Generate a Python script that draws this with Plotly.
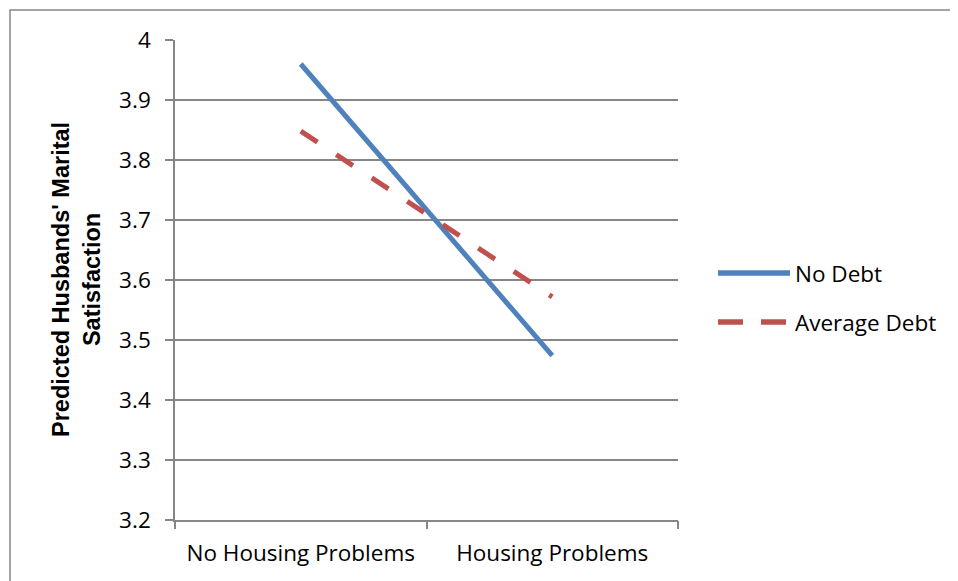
import plotly.graph_objects as go

categories = ["No Housing Problems", "Housing Problems"]
no_debt = [3.96, 3.474]
avg_debt = [3.848, 3.572]
series_names = ["No Debt", "Average Debt"]
y_ticks = [3.2, 3.3, 3.4, 3.5, 3.6, 3.7, 3.8, 3.9, 4.0]
y_tick_text = ["3.2", "3.3", "3.4", "3.5", "3.6", "3.7", "3.8", "3.9", "4"]

OFF = 8  # page body margin
W, H = 958 - OFF, 581 - OFF
PX0, PX1, PY0, PY1 = 175, 678, 40, 520  # plot area in screen pixels
L, R, T, B = PX0 - OFF, 958 - PX1, PY0 - OFF, 581 - PY1
pw, ph = PX1 - PX0, PY1 - PY0
def px(x):
    return (x - PX0) / pw
def py(y):
    return (PY1 - y) / ph

FONT = "Open Sans"
blue = "#4F81BD"
red = "#C0504D"
grid = "#868686"
FS = 22.5

xpos = [i + 0.5 for i in range(len(categories))]

fig = go.Figure()
fig.add_trace(go.Scatter(x=xpos, y=no_debt, mode="lines", name=series_names[0],
                         line=dict(color=blue, width=5), showlegend=False))
fig.add_trace(go.Scatter(x=xpos, y=avg_debt, mode="lines", name=series_names[1],
                         line=dict(color=red, width=5, dash="20px,22.5px"), showlegend=False))
fig.add_trace(go.Scatter(x=[0, len(categories)], y=[3.2, 3.2], xaxis="x2", mode="lines",
                         line=dict(width=0), hoverinfo="skip", showlegend=False))

fig.update_layout(
    width=W, height=H,
    margin=dict(l=L, r=R, t=T, b=B),
    paper_bgcolor="white", plot_bgcolor="white",
    font=dict(family=FONT, size=FS, color="black"),
    xaxis=dict(range=[0, len(categories)], tickvals=xpos, ticktext=categories,
               ticks="", showgrid=False, showline=True, linecolor=grid, linewidth=1.5,
               zeroline=False, tickfont=dict(size=FS), ticklabelstandoff=12),
    xaxis2=dict(range=[0, len(categories)], overlaying="x", tickvals=list(range(len(categories) + 1)),
                showticklabels=False, ticks="outside", ticklen=8, tickcolor=grid, tickwidth=1.5,
                showgrid=False, showline=False, zeroline=False, anchor="y", side="bottom"),
    yaxis=dict(range=[3.2, 4.0], tickvals=y_ticks, ticktext=y_tick_text,
               ticks="outside", ticklen=8, tickcolor=grid, tickwidth=1.5,
               showgrid=True, gridcolor=grid, gridwidth=1.5,
               showline=True, linecolor=grid, linewidth=1.5, zeroline=False,
               tickfont=dict(size=FS), ticklabelstandoff=10),
)

shapes = []
shapes.append(dict(type="rect", xref="paper", yref="paper", x0=px(10), x1=px(990),
                   y0=py(610), y1=py(10), line=dict(color=grid, width=1.5), layer="below"))
leg_y = [273, 322]
shapes.append(dict(type="line", xref="paper", yref="paper", x0=px(718), x1=px(790),
                   y0=py(leg_y[0]), y1=py(leg_y[0]), line=dict(color=blue, width=5.5)))
shapes.append(dict(type="line", xref="paper", yref="paper", x0=px(718), x1=px(786),
                   y0=py(leg_y[1]), y1=py(leg_y[1]), line=dict(color=red, width=5.5, dash="25px,18px")))
fig.update_layout(shapes=shapes)

annotations = []
for name, yy in zip(series_names, leg_y):
    annotations.append(dict(xref="paper", yref="paper", x=px(793), y=py(yy), text=name,
                            showarrow=False, xanchor="left", yanchor="middle",
                            font=dict(size=FS, family=FONT)))
annotations.append(dict(xref="paper", yref="paper", x=px(76), y=py(280),
                        text="<b>Predicted Husbands' Marital</b><br><b>Satisfaction</b>",
                        showarrow=False, textangle=-90, xanchor="center", yanchor="middle",
                        font=dict(size=23.5, family="Liberation Sans", color="black"), align="center"))
fig.update_layout(annotations=annotations)

fig.write_html("out.html")
